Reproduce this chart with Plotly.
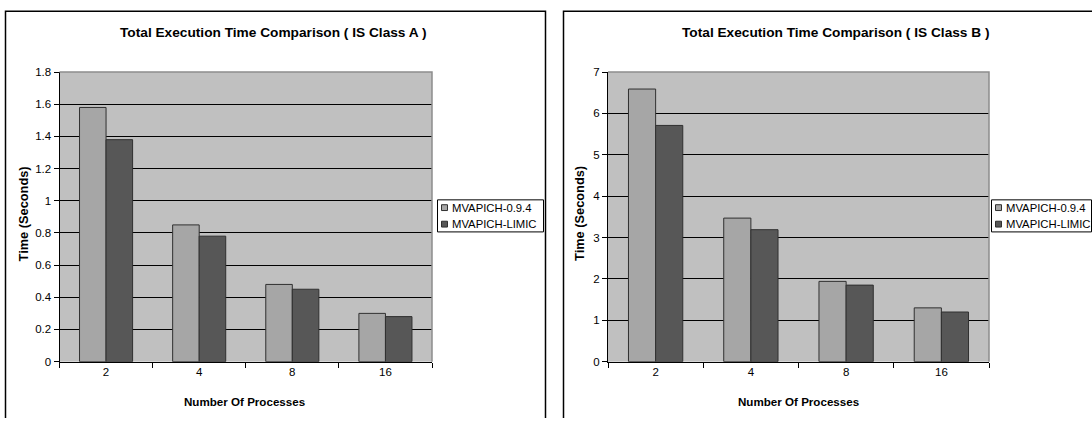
import plotly.graph_objects as go

processes = ["2", "4", "8", "16"]
series_names = ["MVAPICH-0.9.4", "MVAPICH-LIMIC"]
class_a_mvapich = [1.58, 0.85, 0.48, 0.30]
class_a_limic = [1.38, 0.78, 0.45, 0.28]
class_b_mvapich = [6.59, 3.47, 1.94, 1.30]
class_b_limic = [5.71, 3.19, 1.85, 1.20]
title_a = "Total Execution Time Comparison ( IS Class A )"
title_b = "Total Execution Time Comparison ( IS Class B )"
x_title = "Number Of Processes"
y_title = "Time (Seconds)"

W, H = 1092, 424
FONT = "Liberation Sans, Arial, sans-serif"
COLORS = ["#A6A6A6", "#575757"]
EDGE = "#303030"

def px(x):
    return x / W

def py(y):
    return (H - y) / H

fig = go.Figure()
for vals, name, col, xa_, ya_ in [
    (class_a_mvapich, series_names[0], COLORS[0], "x", "y"),
    (class_a_limic, series_names[1], COLORS[1], "x", "y"),
    (class_b_mvapich, series_names[0], COLORS[0], "x2", "y2"),
    (class_b_limic, series_names[1], COLORS[1], "x2", "y2"),
]:
    fig.add_trace(go.Bar(x=processes, y=vals, name=name, xaxis=xa_, yaxis=ya_, showlegend=False,
                         marker=dict(color=col, line=dict(color=EDGE, width=1))))

ydom = [py(366), py(68)]
xa = [px(59.5), px(432)]
xb = [px(608), px(989)]

xcommon = dict(type="category", tickson="boundaries", ticks="outside", ticklen=5, tickcolor="black",
               showline=True, linecolor="black", linewidth=1, showgrid=False,
               tickfont=dict(size=11.5, color="black", family=FONT), fixedrange=True)
ycommon = dict(ticks="outside", ticklen=5, tickcolor="black", showline=True, linecolor="black", linewidth=1,
               showgrid=True, gridcolor="black", gridwidth=1, zeroline=False,
               tickfont=dict(size=11.5, color="black", family=FONT), fixedrange=True)

fig.update_layout(
    width=W, height=H, margin=dict(l=0, r=0, t=0, b=0),
    paper_bgcolor="white", plot_bgcolor="#C0C0C0",
    barmode="group", bargap=0.43, bargroupgap=0,
    font=dict(family=FONT, color="black"),
    xaxis=dict(domain=xa, anchor="y", **xcommon),
    yaxis=dict(domain=ydom, anchor="x", range=[0, 1.8], dtick=0.2, **ycommon),
    xaxis2=dict(domain=xb, anchor="y2", **xcommon),
    yaxis2=dict(domain=ydom, anchor="x2", range=[0, 7], dtick=1, **ycommon),
    showlegend=False,
)

ann = []
shapes = []
# chart titles
for cx, t in [(273.5, title_a), (836, title_b)]:
    ann.append(dict(x=px(cx), y=py(27.5), xref="paper", yref="paper", text="<b>%s</b>" % t, showarrow=False,
                    font=dict(size=13.7, family=FONT, color="black"), xanchor="center", yanchor="middle"))
# axis titles
for cx in [244, 798]:
    ann.append(dict(x=px(cx), y=py(407.5), xref="paper", yref="paper", text="<b>%s</b>" % x_title, showarrow=False,
                    font=dict(size=11.6, family=FONT, color="black"), xanchor="center", yanchor="middle"))
for cx in [23.5, 580]:
    ann.append(dict(x=px(cx), y=py(214), xref="paper", yref="paper", text="<b>%s</b>" % y_title, showarrow=False,
                    textangle=-90, font=dict(size=12.8, family=FONT, color="black"), xanchor="center", yanchor="middle"))

# legends (boxed, Excel style)
for lx, ly in [(437, 199), (991, 199)]:
    shapes.append(dict(type="rect", xref="paper", yref="paper", x0=px(lx + 0.5), x1=px(min(lx + 106.5, 1091.5)),
                       y0=py(ly + 33.5), y1=py(ly + 0.5), line=dict(color="black", width=1), fillcolor="white"))
    for i, (name, col) in enumerate(zip(series_names, COLORS)):
        cy = ly + 8 + i * 17
        shapes.append(dict(type="rect", xref="paper", yref="paper", x0=px(lx + 4.5), x1=px(lx + 10.5),
                           y0=py(cy + 3.5), y1=py(cy - 2.5), line=dict(color=EDGE, width=1), fillcolor=col))
        ann.append(dict(x=px(lx + 12.5), y=py(cy + 0.5), xref="paper", yref="paper", text=name, showarrow=False,
                        font=dict(size=11.3, family=FONT, color="black"), xanchor="left", yanchor="middle"))

# outer chart borders
shapes.append(dict(type="path", xref="paper", yref="paper",
                   path="M %f,%f L %f,%f L %f,%f L %f,%f" % (px(5.5), py(424), px(5.5), py(5.5),
                                                            px(545.5), py(5.5), px(545.5), py(424)),
                   line=dict(color="black", width=1.5)))
shapes.append(dict(type="path", xref="paper", yref="paper",
                   path="M %f,%f L %f,%f L %f,%f" % (px(563.5), py(424), px(563.5), py(5.5), px(1092), py(5.5)),
                   line=dict(color="black", width=1.5)))
# plot-area frame (top and right, grey)
for (x0, x1) in [(59.5, 432), (608, 989)]:
    shapes.append(dict(type="path", xref="paper", yref="paper",
                       path="M %f,%f L %f,%f L %f,%f" % (px(x0), py(68), px(x1), py(68), px(x1), py(366)),
                       line=dict(color="#8C8C8C", width=1.5)))

fig.update_layout(annotations=ann, shapes=shapes)

fig.write_html(
    "out.html",
    config={"displayModeBar": False, "staticPlot": True},
    post_script=("document.body.style.margin='0';document.body.style.overflow='hidden';"
                 "document.documentElement.style.overflow='hidden';"
                 "document.getElementById('{plot_id}').style.overflow='hidden';"),
)
